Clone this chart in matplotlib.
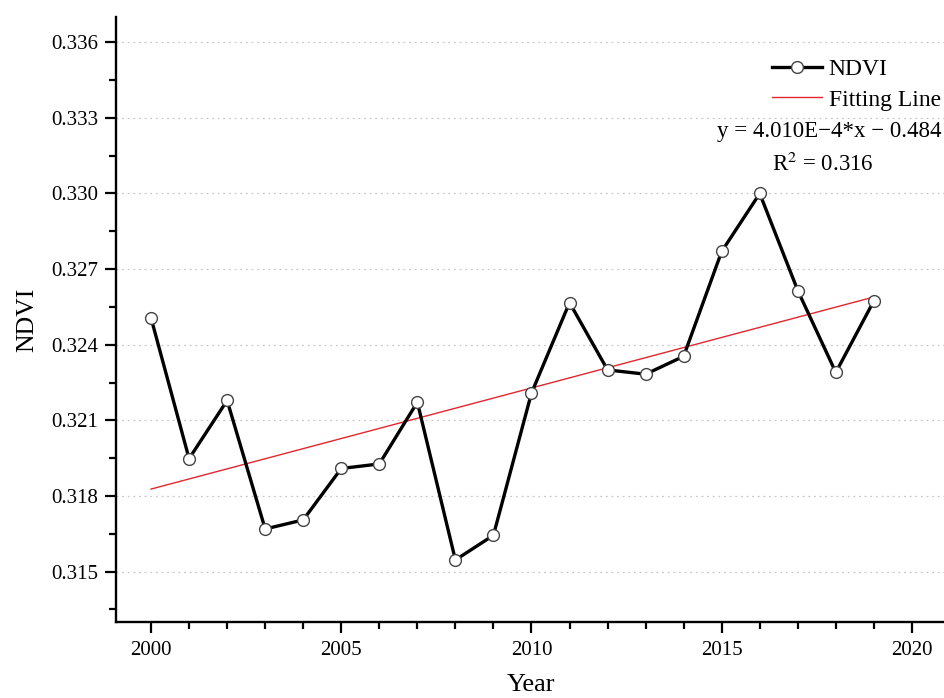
import numpy as np
import matplotlib.pyplot as plt
from matplotlib.ticker import MultipleLocator

plt.rcParams['font.family'] = ['Liberation Serif', 'DejaVu Serif']
plt.rcParams['mathtext.fontset'] = 'stix'

years = np.arange(2000, 2020)
ndvi = [0.32506, 0.31948, 0.32179, 0.31669, 0.31705,
        0.31909, 0.31927, 0.32172, 0.31546, 0.31644,
        0.32208, 0.32567, 0.32300, 0.32283, 0.32354,
        0.32770, 0.33000, 0.32615, 0.32290, 0.32574]

slope = 4.010e-4
r2 = 0.316
intercept = np.mean(ndvi) - slope * np.mean(years)
fit = slope * years + intercept

fig = plt.figure(figsize=(9.45, 6.98), dpi=100)
ax = fig.add_axes([0.1228, 0.1089, 0.8772, 0.8667])

ax.plot(years, ndvi, color='black', lw=2.4, marker='o', ms=8.5,
        mfc='white', mec='#444444', mew=1.0, label='NDVI', zorder=3)
ax.plot(years, fit, color='#e4262f', lw=1.0, label='Fitting Line', zorder=2)

ax.set_xlim(1999.08, 2020.87)
ax.set_ylim(0.313, 0.337)
ax.set_xticks([2000, 2005, 2010, 2015, 2020])
ax.xaxis.set_minor_locator(MultipleLocator(1))
ax.set_yticks(np.arange(0.315, 0.3365, 0.003))
ax.yaxis.set_major_formatter(plt.FormatStrFormatter('%.3f'))
ax.yaxis.set_minor_locator(MultipleLocator(0.0015))

ax.grid(axis='y', which='major', ls=(0, (1.5, 3)), color='#c8c8c8', lw=0.9)
ax.set_axisbelow(True)

for side in ['top', 'right']:
    ax.spines[side].set_visible(False)
for side in ['left', 'bottom']:
    ax.spines[side].set_linewidth(1.7)

ax.tick_params(which='major', direction='out', length=8, width=1.6, labelsize=15)
ax.tick_params(which='minor', direction='out', length=5, width=1.6)
ax.tick_params(axis='x', which='major', pad=6)
ax.tick_params(axis='y', which='major', pad=5)

ax.set_xlabel('Year', fontsize=19, labelpad=10)
ax.set_ylabel('NDVI', fontsize=18.5, labelpad=9)

ax.legend(loc='upper left', bbox_to_anchor=(0.807, 0.9297),
          bbox_transform=fig.transFigure, frameon=False,
          fontsize=17, handlelength=2.1, handletextpad=0.3,
          labelspacing=0.38, borderaxespad=0)

fig.text(0.878, 0.811, 'y = 4.010E\u22124*x \u2212 0.484', fontsize=16.5,
         ha='center', va='center')
fig.text(0.871, 0.765, 'R$^2$ = %.3f' % r2, fontsize=16.5,
         ha='center', va='center')

fig.savefig('out.png', dpi=100, facecolor='white')
